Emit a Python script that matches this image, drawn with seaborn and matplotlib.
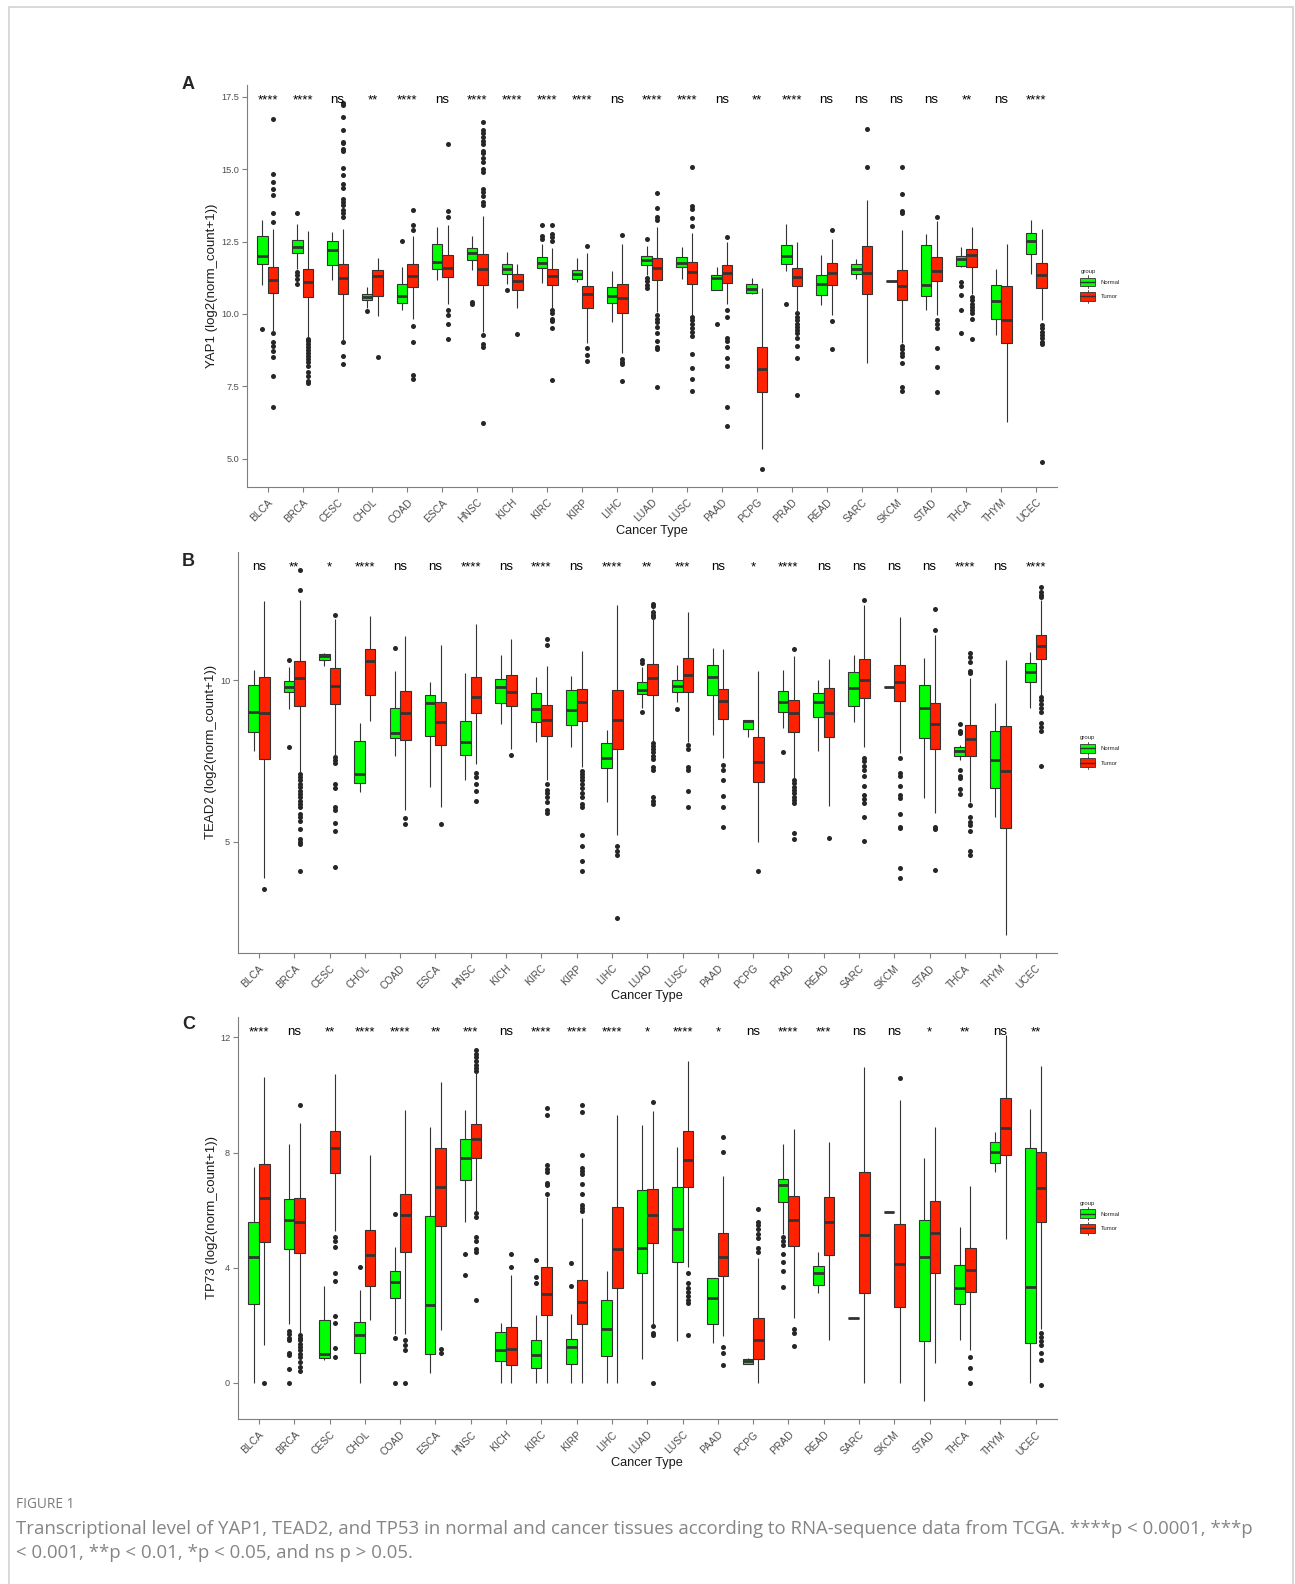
import numpy as np
import pandas as pd
import matplotlib
matplotlib.use('Agg')
import matplotlib.pyplot as plt
import seaborn as sns
from matplotlib.legend_handler import HandlerBase
from matplotlib.patches import Rectangle, Patch
from matplotlib.lines import Line2D
from matplotlib.transforms import ScaledTranslation

# ---------------- data ----------------
CANCERS = ['BLCA', 'BRCA', 'CESC', 'CHOL', 'COAD', 'ESCA', 'HNSC', 'KICH', 'KIRC', 'KIRP',
           'LIHC', 'LUAD', 'LUSC', 'PAAD', 'PCPG', 'PRAD', 'READ', 'SARC', 'SKCM', 'STAD',
           'THCA', 'THYM', 'UCEC']
GROUPS = ['Normal', 'Tumor']
PALETTE = {'Normal': '#00ff00', 'Tumor': '#ff2200'}

# box summaries: (lower whisker, Q1, median, Q3, upper whisker)
YAP1_NORMAL = [
    (11.01, 11.72, 11.99, 12.68, 13.26), (11.57, 12.12, 12.31, 12.56, 13.12),
    (11.19, 11.68, 12.20, 12.52, 12.83), (10.22, 10.48, 10.59, 10.70, 10.93),
    (10.13, 10.38, 10.62, 11.05, 11.62), (11.19, 11.57, 11.80, 12.43, 13.00),
    (11.53, 11.88, 12.10, 12.29, 12.71), (11.05, 11.37, 11.54, 11.74, 12.14),
    (11.07, 11.59, 11.76, 11.97, 12.43), (11.11, 11.20, 11.37, 11.53, 11.94),
    (9.73, 10.39, 10.61, 10.93, 11.47), (11.34, 11.70, 11.86, 11.99, 12.35),
    (11.22, 11.62, 11.77, 11.97, 12.31), (10.84, 10.84, 11.26, 11.36, 11.62),
    (10.70, 10.74, 10.85, 11.05, 11.26), (11.49, 11.74, 11.99, 12.37, 13.12),
    (10.30, 10.65, 11.03, 11.36, 12.05), (11.20, 11.37, 11.57, 11.74, 11.91),
    (11.13, 11.13, 11.13, 11.13, 11.13), (10.15, 10.61, 10.99, 12.40, 12.75),
    (11.62, 11.65, 11.91, 12.00, 12.31), (9.27, 9.84, 10.44, 11.01, 11.57),
    (11.39, 12.08, 12.52, 12.81, 13.26)]
YAP1_TUMOR = [
    (9.39, 10.74, 11.19, 11.62, 12.94), (9.21, 10.59, 11.11, 11.54, 12.86),
    (9.07, 10.68, 11.24, 11.74, 12.94), (9.94, 10.62, 11.31, 11.51, 11.93),
    (9.81, 10.93, 11.31, 11.72, 12.68), (10.36, 11.28, 11.59, 12.05, 13.08),
    (9.38, 11.01, 11.54, 12.06, 13.40), (10.19, 10.82, 11.13, 11.37, 11.74),
    (10.19, 11.01, 11.30, 11.54, 12.29), (9.01, 10.19, 10.68, 10.97, 12.10),
    (8.66, 10.05, 10.56, 11.05, 12.43), (10.07, 11.19, 11.59, 11.94, 13.02),
    (9.98, 11.05, 11.45, 11.80, 12.79), (10.36, 11.08, 11.43, 11.70, 12.48),
    (5.34, 7.30, 8.09, 8.85, 10.90), (10.07, 10.96, 11.28, 11.60, 12.48),
    (9.96, 10.99, 11.43, 11.76, 12.60), (8.29, 10.68, 11.42, 12.35, 13.94),
    (8.98, 10.48, 10.96, 11.51, 12.91), (9.98, 11.13, 11.49, 11.97, 13.21),
    (10.70, 11.62, 12.05, 12.25, 13.02), (6.25, 9.01, 9.79, 10.97, 12.43),
    (9.79, 10.91, 11.36, 11.76, 12.94)]
YAP1_NORMAL_OUT = [
    [9.47], [13.48, 11.45, 11.34, 11.22, 11.05], [], [10.1], [12.51], [], [10.4, 10.33],
    [10.82], [13.09, 12.69, 12.6], [], [], [12.6, 11.26, 11.14, 10.99, 10.91], [], [9.65],
    [], [10.36], [], [], [], [], [11.11, 10.96, 10.67, 10.15, 9.36], [], []]
YAP1_TUMOR_OUT = [
    [16.73, 14.84, 14.55, 14.32, 14.11, 13.49, 13.17, 9.33, 9.04, 8.89, 8.72, 8.52, 7.86, 6.77],
    [9.15, 9.05, 8.95, 8.85, 8.75, 8.65, 8.55, 8.45, 8.35, 8.2, 8.0, 7.85, 7.7, 7.6],
    [17.28, 17.21, 16.79, 16.36, 15.96, 15.9, 15.7, 15.64, 15.03, 14.8, 14.49, 14.35, 13.98,
     13.86, 13.75, 13.6, 13.48, 13.34, 9.04, 8.55, 8.26],
    [8.52],
    [13.59, 13.08, 12.91, 9.58, 9.04, 7.89, 7.74],
    [15.89, 13.57, 13.34, 10.15, 9.96, 9.67, 9.12],
    [16.62, 16.35, 16.24, 16.1, 15.98, 15.89, 15.64, 15.55, 15.39, 15.24, 15.0, 14.92, 14.32,
     14.2, 14.09, 13.86, 13.75, 9.29, 8.96, 8.87, 6.23],
    [9.3],
    [13.09, 12.77, 12.66, 12.52, 10.13, 10.04, 9.84, 9.76, 9.5, 7.72],
    [12.35, 8.83, 8.58, 8.39],
    [12.74, 8.43, 8.35, 8.27, 7.7],
    [14.17, 13.67, 13.34, 13.26, 9.96, 9.84, 9.73, 9.56, 9.33, 9.08, 8.87, 8.78, 7.47],
    [15.09, 13.72, 13.63, 13.32, 13.03, 9.9, 9.79, 9.67, 9.53, 9.38, 9.24, 8.6, 8.15, 7.74, 7.34],
    [12.66, 10.13, 9.88, 9.16, 9.08, 8.85, 8.47, 8.21, 6.77, 6.14],
    [4.66],
    [10.02, 9.9, 9.79, 9.67, 9.56, 9.44, 9.33, 9.16, 8.9, 8.47, 7.2],
    [12.89, 9.75, 8.79],
    [16.39, 15.09],
    [15.07, 14.13, 13.57, 13.48, 8.89, 8.78, 8.66, 8.55, 8.32, 7.49, 7.35],
    [13.34, 9.79, 9.67, 9.5, 8.81, 8.18, 7.32],
    [10.59, 10.48, 10.36, 10.25, 10.13, 10.02, 9.84, 9.13],
    [],
    [9.61, 9.5, 9.38, 9.27, 9.16, 9.04, 8.96, 4.88]]
YAP1_SIG = ['****', '****', 'ns', '**', '****', 'ns', '****', '****', '****', '****', 'ns',
            '****', '****', 'ns', '**', '****', 'ns', 'ns', 'ns', 'ns', '**', 'ns', '****']

TEAD2_NORMAL = [
    (7.79, 8.40, 9.00, 9.85, 10.31), (9.10, 9.62, 9.80, 9.96, 10.41),
    (10.44, 10.62, 10.75, 10.80, 10.84), (6.53, 6.81, 7.09, 8.12, 8.67),
    (7.64, 8.21, 8.36, 9.12, 10.29), (6.68, 8.28, 9.28, 9.55, 9.95),
    (6.89, 7.69, 8.09, 8.74, 10.21), (8.64, 9.28, 9.77, 10.03, 10.78),
    (8.09, 8.69, 9.10, 9.59, 10.08), (7.92, 8.61, 9.08, 9.70, 10.13),
    (6.22, 7.28, 7.59, 8.05, 8.45), (9.15, 9.57, 9.70, 9.93, 10.41),
    (9.31, 9.64, 9.82, 10.00, 10.46), (8.31, 9.54, 10.11, 10.46, 10.98),
    (8.23, 8.48, 8.74, 8.77, 8.77), (8.51, 9.00, 9.33, 9.65, 10.32),
    (7.81, 8.85, 9.33, 9.59, 10.00), (8.69, 9.21, 9.74, 10.26, 10.78),
    (9.80, 9.80, 9.80, 9.80, 9.80), (6.34, 8.21, 9.15, 9.85, 10.68),
    (7.51, 7.66, 7.81, 7.92, 8.00), (5.77, 6.66, 7.54, 8.41, 9.28),
    (9.15, 9.93, 10.26, 10.52, 10.88)]
TEAD2_TUMOR = [
    (3.88, 7.56, 8.98, 10.11, 12.45), (7.16, 9.19, 10.05, 10.58, 12.47),
    (7.66, 9.26, 9.81, 10.36, 11.89), (8.74, 9.55, 10.60, 10.96, 11.99),
    (5.98, 8.15, 8.98, 9.65, 11.35), (6.06, 8.00, 8.71, 9.31, 11.08),
    (7.40, 8.97, 9.48, 10.10, 11.73), (7.87, 9.19, 9.64, 10.15, 11.27),
    (6.89, 8.26, 8.76, 9.24, 10.44), (7.30, 8.72, 9.33, 9.72, 10.91),
    (5.21, 7.85, 8.76, 9.69, 12.32), (8.12, 9.54, 10.05, 10.49, 12.20),
    (8.07, 9.62, 10.15, 10.68, 12.11), (7.58, 8.79, 9.36, 9.72, 10.96),
    (4.98, 6.84, 7.45, 8.25, 10.29), (6.97, 8.40, 8.98, 9.38, 10.75),
    (6.09, 8.23, 8.98, 9.74, 10.65), (7.92, 9.44, 10.01, 10.65, 12.33),
    (7.73, 9.34, 9.95, 10.46, 11.96), (5.88, 7.87, 8.64, 9.29, 11.39),
    (6.22, 7.66, 8.18, 8.62, 10.06), (2.12, 5.42, 7.18, 8.59, 10.63),
    (9.55, 10.65, 11.06, 11.40, 12.47)]
TEAD2_NORMAL_OUT = [
    [], [10.63, 7.92], [], [], [10.98], [], [], [], [], [], [], [10.62, 10.53, 9.02], [9.1],
    [], [], [7.76], [], [], [], [], [8.64, 8.43, 8.35, 7.2, 7.04, 6.96, 6.63, 6.47], [], []]
TEAD2_TUMOR_OUT = [
    [3.54],
    [13.41, 12.78, 7.09, 6.99, 6.89, 6.78, 6.68, 6.58, 6.47, 6.37, 6.25, 6.16, 6.06, 5.86,
     5.75, 5.63, 5.39, 5.08, 4.98, 4.93, 4.1],
    [12.02, 7.61, 7.53, 7.42, 6.78, 6.66, 6.06, 5.98, 5.58, 5.34, 4.21],
    [],
    [5.73, 5.55],
    [5.55],
    [7.12, 7.01, 6.78, 6.58, 6.27],
    [7.69],
    [11.27, 11.08, 6.78, 6.6, 6.49, 6.37, 6.22, 5.98, 5.89],
    [7.18, 7.09, 6.99, 6.89, 6.78, 6.66, 6.51, 6.37, 6.16, 6.06, 5.19, 4.85, 4.41, 4.1],
    [4.86, 4.7, 4.59, 2.64],
    [12.37, 12.28, 12.11, 12.02, 11.94, 8.05, 7.97, 7.87, 7.76, 7.66, 7.56, 7.3, 7.2, 6.39,
     6.27, 6.16],
    [8.0, 7.85, 7.32, 7.22, 6.56, 6.06],
    [7.37, 7.2, 6.91, 6.42, 6.06, 5.46],
    [4.08],
    [10.96, 6.91, 6.8, 6.7, 6.6, 6.49, 6.39, 6.29, 6.19, 5.26, 5.08],
    [5.1],
    [12.47, 7.59, 7.48, 7.35, 7.22, 7.04, 6.71, 6.44, 6.32, 6.2, 5.75, 5.01],
    [7.58, 7.12, 7.02, 6.73, 6.45, 6.35, 5.86, 5.46, 5.41, 4.19, 3.88],
    [12.2, 11.56, 5.46, 5.39, 4.13],
    [10.84, 10.72, 10.57, 10.29, 10.21, 6.13, 5.77, 5.62, 5.52, 5.32, 4.7, 4.57],
    [],
    [12.89, 12.72, 12.64, 12.56, 9.48, 9.38, 9.26, 9.15, 9.02, 8.66, 8.56, 8.43, 7.35]]
TEAD2_SIG = ['ns', '**', '*', '****', 'ns', 'ns', '****', 'ns', '****', 'ns', '****',
             '**', '***', 'ns', '*', '****', 'ns', 'ns', 'ns', 'ns', '****', 'ns', '****']

TP73_NORMAL = [
    (0.00, 2.74, 4.38, 5.57, 7.50), (2.05, 4.65, 5.66, 6.37, 8.28),
    (0.78, 0.86, 0.99, 2.19, 3.35), (0.00, 1.05, 1.65, 2.11, 3.23),
    (1.71, 2.95, 3.49, 3.87, 4.73), (0.35, 1.01, 2.69, 5.80, 8.88),
    (5.59, 7.04, 7.82, 8.48, 9.49), (0.00, 0.76, 1.15, 1.76, 2.07),
    (0.00, 0.52, 0.96, 1.50, 2.34), (0.00, 0.67, 1.24, 1.53, 2.40),
    (0.00, 0.93, 1.88, 2.88, 3.87), (0.82, 3.82, 4.70, 6.70, 8.95),
    (1.45, 4.21, 5.36, 6.81, 8.20), (1.39, 2.05, 2.95, 3.64, 3.64),
    (0.67, 0.67, 0.75, 0.81, 0.86), (5.16, 6.28, 6.86, 7.09, 8.30),
    (3.11, 3.41, 3.82, 4.07, 4.55), (2.26, 2.26, 2.26, 2.26, 2.26),
    (5.95, 5.95, 5.95, 5.95, 5.95), (-0.62, 1.45, 4.36, 5.66, 7.82),
    (1.50, 2.74, 3.30, 4.10, 5.42), (7.32, 7.64, 8.01, 8.37, 8.70),
    (0.00, 1.39, 3.32, 8.16, 9.52)]
TP73_TUMOR = [
    (1.30, 4.88, 6.43, 7.61, 10.62), (1.73, 4.51, 5.57, 6.41, 9.03),
    (5.26, 7.30, 8.16, 8.76, 10.73), (2.19, 3.38, 4.44, 5.30, 7.91),
    (1.71, 4.53, 5.82, 6.57, 9.46), (1.84, 5.43, 6.81, 8.16, 10.44),
    (5.97, 7.82, 8.47, 9.00, 10.78), (0.00, 0.61, 1.19, 1.94, 3.75),
    (0.00, 2.36, 3.09, 4.03, 6.45), (0.00, 2.05, 2.80, 3.57, 5.72),
    (0.00, 3.30, 4.65, 6.12, 9.31), (2.05, 4.85, 5.83, 6.72, 9.45),
    (4.01, 6.81, 7.73, 8.74, 11.19), (1.63, 3.70, 4.36, 5.19, 7.18),
    (0.00, 0.82, 1.48, 2.26, 4.33), (2.25, 4.74, 5.66, 6.49, 8.83),
    (1.48, 4.44, 5.59, 6.46, 8.36), (0.00, 3.12, 5.13, 7.33, 10.96),
    (0.00, 2.65, 4.13, 5.53, 9.81), (0.69, 3.80, 5.22, 6.32, 8.88),
    (1.15, 3.17, 3.92, 4.67, 6.84), (4.99, 7.91, 8.85, 9.91, 12.08),
    (1.88, 5.57, 6.78, 8.01, 11.01)]
TP73_NORMAL_OUT = [
    [], [1.79, 1.71, 1.56, 1.48, 1.05, 0.96, 0.47, 0.0], [], [4.01], [5.86, 1.56, 0.0], [],
    [4.47, 3.76], [], [4.28, 3.67, 3.46], [4.16, 3.38], [], [], [], [], [],
    [5.05, 4.91, 4.78, 4.47, 4.18, 3.9, 3.32], [], [], [], [], [], [], []]
TP73_TUMOR_OUT = [
    [0.0],
    [9.64, 1.65, 1.56, 1.48, 1.36, 1.24, 1.13, 1.01, 0.9, 0.73, 0.55, 0.4],
    [5.05, 4.93, 4.73, 3.82, 3.52, 2.31, 2.07, 1.22, 0.88],
    [],
    [1.48, 1.3, 1.13, 0.0],
    [1.19, 1.04],
    [11.56, 11.42, 11.31, 11.18, 11.04, 10.93, 10.84, 5.91, 5.76, 5.05, 4.93, 4.65, 4.53, 2.88],
    [4.47, 4.01],
    [9.54, 9.31, 7.56, 7.44, 7.32, 6.95, 6.87, 6.57],
    [9.66, 9.39, 7.93, 7.47, 7.35, 7.24, 6.89, 6.57, 6.18, 6.06, 5.97],
    [],
    [9.74, 1.96, 1.73, 1.65, 0.0],
    [3.8, 3.46, 3.3, 3.17, 3.03, 2.86, 2.78, 1.65],
    [8.54, 8.01, 1.24, 1.05, 0.61],
    [6.03, 5.6, 5.49, 5.34, 5.16, 5.03, 4.7, 4.56],
    [1.86, 1.74, 1.28],
    [], [], [10.58], [],
    [0.9, 0.52, 0.0],
    [],
    [1.73, 1.59, 1.45, 1.3, 1.04, 0.78, -0.06]]
TP73_SIG = ['****', 'ns', '**', '****', '****', '**', '***', 'ns', '****', '****', '****',
            '*', '****', '*', 'ns', '****', '***', 'ns', 'ns', '*', '**', 'ns', '**']

CAPTION_1 = ('Transcriptional level of YAP1, TEAD2, and TP53 in normal and cancer tissues '
             'according to RNA-sequence data from TCGA. ****p < 0.0001, ***p')
CAPTION_2 = '< 0.001, **p < 0.01, *p < 0.05, and ns p > 0.05.'

# ---------------- helpers ----------------
BOX_W = 0.6
EDGE = '#333333'


def box_frame(normal, tumor):
    rows = []
    for grp, summaries in (('Normal', normal), ('Tumor', tumor)):
        for code, five in enumerate(summaries):
            for v in five:
                rows.append((code, grp, v))
    return pd.DataFrame(rows, columns=['code', 'group', 'value'])


def flier_frame(normal_out, tumor_out):
    rows = []
    for grp, shift, outs in (('Normal', -BOX_W / 4, normal_out), ('Tumor', BOX_W / 4, tumor_out)):
        for code, vals in enumerate(outs):
            for v in vals:
                rows.append((code + shift, grp, v))
    return pd.DataFrame(rows, columns=['xpos', 'group', 'value'])


class BoxKey(HandlerBase):
    def create_artists(self, legend, orig_handle, xdescent, ydescent, width, height,
                       fontsize, trans):
        x0, y0 = -xdescent, -ydescent
        cx = x0 + width / 2
        box = Rectangle((x0, y0 + height * 0.17), width, height * 0.66,
                        facecolor=orig_handle.get_facecolor(), edgecolor=EDGE,
                        linewidth=0.6, transform=trans)
        med = Line2D([x0, x0 + width], [y0 + height / 2] * 2, color=EDGE, lw=1.0, transform=trans)
        top = Line2D([cx, cx], [y0 + height * 0.83, y0 + height], color=EDGE, lw=0.6, transform=trans)
        bot = Line2D([cx, cx], [y0, y0 + height * 0.17], color=EDGE, lw=0.6, transform=trans)
        return [top, bot, box, med]


sns.set_style('ticks')
plt.rcParams['font.family'] = ['Liberation Sans', 'DejaVu Sans']

fig = plt.figure(figsize=(12.95, 15.84), dpi=100)
nudge = ScaledTranslation(0.045, 0, fig.dpi_scale_trans)

panels = [
    ('A', 'YAP1 (log2(norm_count+1))', YAP1_NORMAL, YAP1_TUMOR, YAP1_NORMAL_OUT, YAP1_TUMOR_OUT,
     YAP1_SIG, [5.0, 7.5, 10.0, 12.5, 15.0, 17.5], '{:.1f}',
     [0.1905, 0.6927, 0.6259, 0.2536], -0.0354, 89),
    ('B', 'TEAD2 (log2(norm_count+1))', TEAD2_NORMAL, TEAD2_TUMOR, TEAD2_NORMAL_OUT,
     TEAD2_TUMOR_OUT, TEAD2_SIG, [5, 10], '{:.0f}',
     [0.1836, 0.3985, 0.6324, 0.2532], -0.0253, 566),
    ('C', 'TP73 (log2(norm_count+1))', TP73_NORMAL, TP73_TUMOR, TP73_NORMAL_OUT, TP73_TUMOR_OUT,
     TP73_SIG, [0, 4, 8, 12], '{:.0f}',
     [0.1836, 0.1042, 0.6324, 0.2539], -0.024, 1029),
]

for (tag, ylab, nrm, tum, nrm_out, tum_out, sig, yticks, fmt, rect, ylab_x, tag_px) in panels:
    ax = fig.add_axes(rect)
    bdf = box_frame(nrm, tum)
    fdf = flier_frame(nrm_out, tum_out)

    sns.boxplot(data=bdf, x='code', y='value', hue='group', hue_order=GROUPS, palette=PALETTE,
                saturation=1, width=BOX_W, gap=0, whis=(0, 100), showfliers=False,
                showcaps=False, linecolor=EDGE, linewidth=0.8,
                medianprops=dict(linewidth=2.0, color=EDGE), legend=False, ax=ax)
    sns.scatterplot(data=fdf, x='xpos', y='value', color='#262626', s=13, linewidth=0,
                    legend=False, ax=ax)

    allv = np.concatenate([bdf['value'].values, fdf['value'].values])
    lo, hi = allv.min(), allv.max()
    pad = (hi - lo) * 0.05
    ax.set_ylim(lo - pad, hi + pad)
    ax.set_xlim(-0.6, len(CANCERS) - 0.4)

    for i, s in enumerate(sig):
        ax.text(i, hi, s, ha='center', va='baseline', fontsize=9.5, color='black')

    ax.set_yticks(yticks)
    ax.set_yticklabels([fmt.format(t) for t in yticks])
    ax.set_xticks(range(len(CANCERS)))
    ax.set_xticklabels(CANCERS, rotation=45, ha='right', rotation_mode='anchor')
    for lbl in ax.get_xticklabels():
        lbl.set_transform(lbl.get_transform() + nudge)
    ax.tick_params(axis='x', labelsize=7.4, pad=4)
    ax.tick_params(axis='y', labelsize=6.6, pad=2)
    ax.tick_params(axis='both', color='#7f7f7f', length=3.5, width=0.8, labelcolor='#4d4d4d')

    for side in ('top', 'right'):
        ax.spines[side].set_visible(False)
    for side in ('left', 'bottom'):
        ax.spines[side].set_color('#7f7f7f')
        ax.spines[side].set_linewidth(0.8)

    ax.set_ylabel(ylab, fontsize=9.5, color='#1a1a1a')
    ax.yaxis.set_label_coords(ylab_x, 0.5)
    ax.set_xlabel('Cancer Type', fontsize=9.2, color='#1a1a1a')
    ax.xaxis.set_label_coords(0.5, -0.094)

    handles = [Patch(facecolor=PALETTE[g]) for g in GROUPS]
    leg = ax.legend(handles, GROUPS, title='group', loc='center left',
                    bbox_to_anchor=(1.025, 0.5), frameon=False, fontsize=4.3,
                    title_fontsize=4.3, handler_map={Patch: BoxKey()}, handlelength=2.5,
                    handleheight=3.0, labelspacing=0.25, handletextpad=0.9, borderpad=0,
                    alignment='left')

    fig.text(182 / 1295, 1 - tag_px / 1584, tag, fontsize=13, fontweight='bold',
             family=['Liberation Sans', 'DejaVu Sans'], ha='left', va='baseline')

# frame and caption
fig.patches.append(Rectangle((9 / 1295, -0.01), (1293 - 9) / 1295, 1.01 - 7 / 1584,
                             transform=fig.transFigure, fill=False, edgecolor='#d2d2d2',
                             linewidth=1.2))
fig.text(16 / 1295, 1 - 1508 / 1584, 'FIGURE 1', fontsize=9.8, color='#7a7a7a',
         family=['Open Sans', 'DejaVu Sans'], ha='left', va='baseline')
fig.text(16 / 1295, 1 - 1534 / 1584, CAPTION_1, fontsize=13.4, color='#858585',
         family=['Open Sans', 'DejaVu Sans'], ha='left', va='baseline')
fig.text(16 / 1295, 1 - 1558 / 1584, CAPTION_2, fontsize=13.4, color='#858585',
         family=['Open Sans', 'DejaVu Sans'], ha='left', va='baseline')

fig.savefig('out.png', dpi=100)
